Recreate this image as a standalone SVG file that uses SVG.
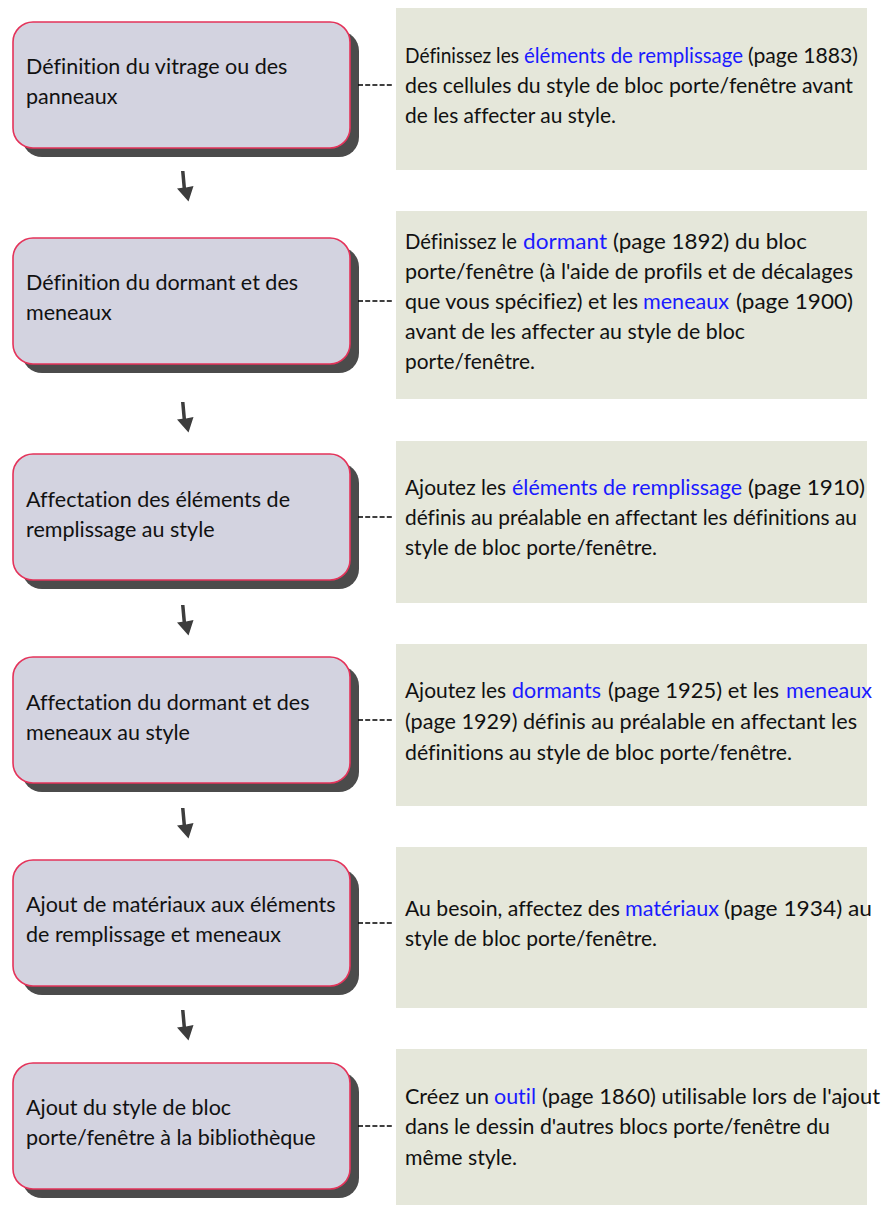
<svg xmlns="http://www.w3.org/2000/svg" width="887" height="1205" viewBox="0 0 887 1205">
  <style>
    .step-txt { font-family: Lato, "Liberation Sans", sans-serif; font-size: 21.5px; fill: #111; font-variant-ligatures: none; }
    .note-txt { font-family: Lato, "Liberation Sans", sans-serif; font-size: 21px; fill: #111; font-variant-ligatures: none; }
    .lnk { fill: #1a1aff; }
    .step-shadow { fill: #4b4b4b; }
    .step { fill: #d3d3e0; stroke: #e4335a; stroke-width: 1.6; }
    .note { fill: #e5e7da; }
    .dash { stroke: #000; stroke-width: 1.4; stroke-dasharray: 5 2.2; fill: none; }
    .arrow { fill: #3c3c3c; }
  </style>
  <defs>
    <filter id="soft" x="-50%" y="-50%" width="200%" height="200%">
      <feGaussianBlur stdDeviation="0.6"/>
    </filter>
    <!-- small hand-drawn style down arrow, origin at its top -->
    <path id="down" d="M-2,0 L1.5,0 L3,16.5 L10.5,15 L5.5,30.5 L-6,17.5 L-0.5,16.8 Z"/>
    <!-- step box with drop shadow -->
    <g id="stepbox">
      <rect class="step-shadow" x="9" y="9" width="337" height="126" rx="20"/>
      <rect class="step" x="0" y="0" width="337" height="126" rx="20"/>
    </g>
  </defs>

  <!-- notes (right column); each run is fitted to its line width -->
  <g id="note1" class="note-txt">
    <rect class="note" x="396" y="8" width="471" height="162"/>
    <text x="405" y="63" textLength="114" lengthAdjust="spacingAndGlyphs">Définissez les</text>
    <text class="lnk" x="524" y="63" textLength="219" lengthAdjust="spacingAndGlyphs">éléments de remplissage</text>
    <text x="748" y="63" textLength="110" lengthAdjust="spacingAndGlyphs">(page 1883)</text>
    <text x="405" y="93" textLength="448" lengthAdjust="spacingAndGlyphs">des cellules du style de bloc porte/fenêtre avant</text>
    <text x="405" y="123" textLength="211" lengthAdjust="spacingAndGlyphs">de les affecter au style.</text>
  </g>
  <g id="note2" class="note-txt">
    <rect class="note" x="396" y="211" width="471" height="188"/>
    <text x="405" y="249" textLength="112" lengthAdjust="spacingAndGlyphs">Définissez le</text>
    <text class="lnk" x="523" y="249" textLength="84" lengthAdjust="spacingAndGlyphs">dormant</text>
    <text x="613" y="249" textLength="194" lengthAdjust="spacingAndGlyphs">(page 1892) du bloc</text>
    <text x="405" y="279" textLength="448" lengthAdjust="spacingAndGlyphs">porte/fenêtre (à l'aide de profils et de décalages</text>
    <text x="405" y="309" textLength="233" lengthAdjust="spacingAndGlyphs">que vous spécifiez) et les</text>
    <text class="lnk" x="643" y="309" textLength="86" lengthAdjust="spacingAndGlyphs">meneaux</text>
    <text x="736" y="309" textLength="117" lengthAdjust="spacingAndGlyphs">(page 1900)</text>
    <text x="405" y="339" textLength="340" lengthAdjust="spacingAndGlyphs">avant de les affecter au style de bloc</text>
    <text x="405" y="369" textLength="130" lengthAdjust="spacingAndGlyphs">porte/fenêtre.</text>
  </g>
  <g id="note3" class="note-txt">
    <rect class="note" x="396" y="441" width="471" height="162"/>
    <text x="405" y="495" textLength="101" lengthAdjust="spacingAndGlyphs">Ajoutez les</text>
    <text class="lnk" x="512" y="495" textLength="230" lengthAdjust="spacingAndGlyphs">éléments de remplissage</text>
    <text x="748" y="495" textLength="117" lengthAdjust="spacingAndGlyphs">(page 1910)</text>
    <text x="405" y="525" textLength="452" lengthAdjust="spacingAndGlyphs">définis au préalable en affectant les définitions au</text>
    <text x="405" y="555" textLength="252" lengthAdjust="spacingAndGlyphs">style de bloc porte/fenêtre.</text>
  </g>
  <g id="note4" class="note-txt">
    <rect class="note" x="396" y="644" width="471" height="162"/>
    <text x="405" y="698" textLength="101" lengthAdjust="spacingAndGlyphs">Ajoutez les</text>
    <text class="lnk" x="512" y="698" textLength="89" lengthAdjust="spacingAndGlyphs">dormants</text>
    <text x="608" y="698" textLength="171" lengthAdjust="spacingAndGlyphs">(page 1925) et les</text>
    <text class="lnk" x="786" y="698" textLength="86" lengthAdjust="spacingAndGlyphs">meneaux</text>
    <text x="405" y="729" textLength="452" lengthAdjust="spacingAndGlyphs">(page 1929) définis au préalable en affectant les</text>
    <text x="405" y="760" textLength="387" lengthAdjust="spacingAndGlyphs">définitions au style de bloc porte/fenêtre.</text>
  </g>
  <g id="note5" class="note-txt">
    <rect class="note" x="396" y="847" width="471" height="161"/>
    <text x="405" y="916" textLength="215" lengthAdjust="spacingAndGlyphs">Au besoin, affectez des</text>
    <text class="lnk" x="625" y="916" textLength="94" lengthAdjust="spacingAndGlyphs">matériaux</text>
    <text x="724" y="916" textLength="148" lengthAdjust="spacingAndGlyphs">(page 1934) au</text>
    <text x="405" y="946" textLength="252" lengthAdjust="spacingAndGlyphs">style de bloc porte/fenêtre.</text>
  </g>
  <g id="note6" class="note-txt">
    <rect class="note" x="396" y="1049" width="471" height="160"/>
    <text x="405" y="1104" textLength="84" lengthAdjust="spacingAndGlyphs">Créez un</text>
    <text class="lnk" x="494" y="1104" textLength="42" lengthAdjust="spacingAndGlyphs">outil</text>
    <text x="542" y="1104" textLength="338" lengthAdjust="spacingAndGlyphs">(page 1860) utilisable lors de l'ajout</text>
    <text x="405" y="1134" textLength="425" lengthAdjust="spacingAndGlyphs">dans le dessin d'autres blocs porte/fenêtre du</text>
    <text x="405" y="1165" textLength="112" lengthAdjust="spacingAndGlyphs">même style.</text>
  </g>

  <!-- steps (left column) -->
  <g id="step1" class="step-txt">
    <use href="#stepbox" x="13" y="22"/>
    <text x="26" y="74">Définition du vitrage ou des</text>
    <text x="26" y="104">panneaux</text>
  </g>
  <g id="step2" class="step-txt">
    <use href="#stepbox" x="13" y="238"/>
    <text x="26" y="290">Définition du dormant et des</text>
    <text x="26" y="320">meneaux</text>
  </g>
  <g id="step3" class="step-txt">
    <use href="#stepbox" x="13" y="454"/>
    <text x="26" y="507">Affectation des éléments de</text>
    <text x="26" y="537">remplissage au style</text>
  </g>
  <g id="step4" class="step-txt">
    <use href="#stepbox" x="13" y="657"/>
    <text x="26" y="710">Affectation du dormant et des</text>
    <text x="26" y="740">meneaux au style</text>
  </g>
  <g id="step5" class="step-txt">
    <use href="#stepbox" x="13" y="860"/>
    <text x="26" y="912">Ajout de matériaux aux éléments</text>
    <text x="26" y="942">de remplissage et meneaux</text>
  </g>
  <g id="step6" class="step-txt">
    <use href="#stepbox" x="13" y="1063"/>
    <text x="26" y="1115">Ajout du style de bloc</text>
    <text x="26" y="1145">porte/fenêtre à la bibliothèque</text>
  </g>

  <!-- connectors -->
  <g id="connectors">
    <line class="dash" x1="358" y1="85" x2="394" y2="85"/>
    <line class="dash" x1="358" y1="301" x2="394" y2="301"/>
    <line class="dash" x1="358" y1="517" x2="394" y2="517"/>
    <line class="dash" x1="358" y1="720" x2="394" y2="720"/>
    <line class="dash" x1="358" y1="923" x2="394" y2="923"/>
    <line class="dash" x1="358" y1="1126" x2="394" y2="1126"/>
    <g class="arrow" filter="url(#soft)">
      <use href="#down" x="183" y="171"/>
      <use href="#down" x="183" y="402"/>
      <use href="#down" x="183" y="605"/>
      <use href="#down" x="183" y="808"/>
      <use href="#down" x="183" y="1010"/>
    </g>
  </g>
</svg>
